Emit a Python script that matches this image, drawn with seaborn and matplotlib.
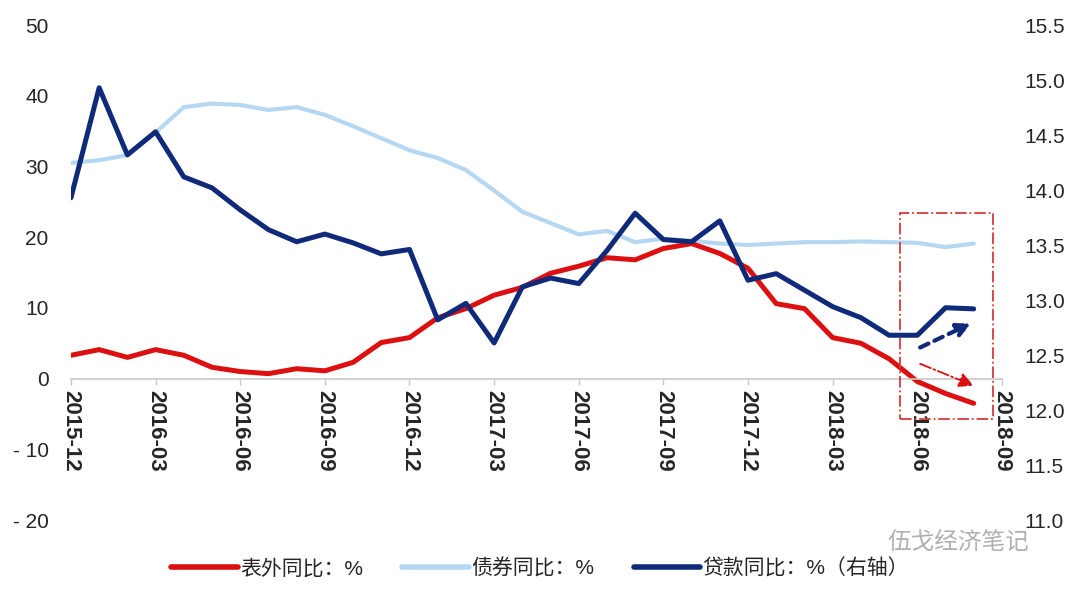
import numpy as np
import pandas as pd
import matplotlib
matplotlib.use("Agg")
import matplotlib.pyplot as plt
import seaborn as sns
from matplotlib.patches import Rectangle
from matplotlib.lines import Line2D

# monthly data, 2015-12 .. 2018-08
months = pd.period_range("2015-12", "2018-08", freq="M").strftime("%Y-%m").tolist()
tick_labels = ["2015-12", "2016-03", "2016-06", "2016-09", "2016-12", "2017-03",
               "2017-06", "2017-09", "2017-12", "2018-03", "2018-06", "2018-09"]

off_bs = [3.3, 4.1, 3.0, 4.1, 3.3, 1.6, 1.0, 0.7, 1.4, 1.1, 2.3, 5.1, 5.8, 8.6, 9.9, 11.8,
          12.9, 14.9, 15.9, 17.1, 16.8, 18.4, 19.1, 17.7, 15.6, 10.6, 9.9, 5.8, 5.0, 2.8,
          -0.4, -2.1, -3.5]
bond = [30.5, 30.9, 31.6, 34.8, 38.4, 38.9, 38.7, 38.0, 38.4, 37.3, 35.7, 34.0, 32.3, 31.2,
        29.5, 26.6, 23.6, 22.0, 20.4, 20.9, 19.3, 19.8, 19.5, 19.1, 18.9, 19.1, 19.3, 19.3,
        19.4, 19.3, 19.2, 18.6, 19.1]
loan = [13.93, 14.93, 14.32, 14.53, 14.12, 14.02, 13.82, 13.64, 13.53, 13.60, 13.52, 13.42,
        13.46, 12.82, 12.97, 12.61, 13.12, 13.20, 13.15, 13.45, 13.79, 13.55, 13.53, 13.72,
        13.18, 13.24, 13.09, 12.94, 12.84, 12.68, 12.68, 12.93, 12.92]

left_ticks = [-20, -10, 0, 10, 20, 30, 40, 50]
left_tick_labels = ["- 20", "- 10", "0", "10", "20", "30", "40", "50"]
right_ticks = [11.0, 11.5, 12.0, 12.5, 13.0, 13.5, 14.0, 14.5, 15.0, 15.5]

legend_labels = ["表外同比：%", "债券同比：%", "贷款同比：%（右轴）"]

df = pd.DataFrame({"idx": range(len(months)), "month": months,
                   "off_bs": off_bs, "bond": bond, "loan": loan})

RED = "#dc1010"
LIGHT = "#b6d7f2"
NAVY = "#0f2a78"

sns.set_theme(style="white")
plt.rcParams["font.family"] = ["Liberation Sans", "Noto Sans CJK SC", "DejaVu Sans"]
plt.rcParams["axes.unicode_minus"] = False

fig = plt.figure(figsize=(10.8, 5.92), dpi=100)
ax = fig.add_axes([0.0657, 0.1216, 0.862, 0.836])
ax2 = ax.twinx()

sns.lineplot(data=df, x="idx", y="bond", ax=ax, color=LIGHT, lw=3.0, legend=False,
             solid_joinstyle="round", solid_capstyle="round")
sns.lineplot(data=df, x="idx", y="off_bs", ax=ax, color=RED, lw=3.6, legend=False,
             solid_joinstyle="round", solid_capstyle="round")
sns.lineplot(data=df, x="idx", y="loan", ax=ax2, color=NAVY, lw=3.6, legend=False,
             solid_joinstyle="round", solid_capstyle="round")

# spines first (moving a spine resets the ticks)
for s in ["left", "right", "top"]:
    ax.spines[s].set_visible(False)
ax.spines["bottom"].set_position(("data", 0))
ax.spines["bottom"].set_color("#c8c8c8")
ax.spines["bottom"].set_linewidth(1.2)
for s in ax2.spines.values():
    s.set_visible(False)

# axes
ax.set_xlim(0, 33)
ax.set_ylim(-20, 50)
ax2.set_ylim(11.0, 15.5)
ax.set_xlabel("")
ax.set_ylabel("")
ax2.set_ylabel("")

ax.set_xticks(range(0, 34, 3))
ax.set_xticklabels(tick_labels)
ax.tick_params(axis="x", bottom=True, length=4, width=1, color="#c8c8c8", pad=4,
               direction="out", labelsize=16, labelrotation=-90)
for t in ax.get_xticklabels():
    t.set_fontweight("bold")

ax.set_yticks(left_ticks)
ax.set_yticklabels(left_tick_labels)
ax.tick_params(axis="y", left=False, length=0, pad=16, labelsize=15)

ax2.set_yticks(right_ticks)
ax2.set_yticklabels([f"{v:.1f}" for v in right_ticks])
ax2.tick_params(axis="y", right=False, length=0, pad=16, labelsize=15)

# highlight box and arrows
ax.add_patch(Rectangle((29.4, -5.7), 3.3, 29.1, fill=False, edgecolor="#d83a3a",
                       linestyle="-.", lw=1.3, zorder=5))
ax.annotate("", xy=(31.9, 7.8), xytext=(30.1, 4.4),
            arrowprops=dict(arrowstyle="-|>", color=NAVY, lw=3, linestyle=(0, (2.2, 1.6)),
                            mutation_scale=20, shrinkA=0, shrinkB=0))
ax.annotate("", xy=(32.0, -1.0), xytext=(30.1, 2.1),
            arrowprops=dict(arrowstyle="-|>", color=RED, lw=1.3, linestyle="-.",
                            mutation_scale=22, shrinkA=0, shrinkB=0))

# legend
handles = [Line2D([], [], color=RED, lw=4),
           Line2D([], [], color=LIGHT, lw=4),
           Line2D([], [], color=NAVY, lw=4)]
fig.legend(handles, legend_labels, loc="center", bbox_to_anchor=(0.5, 0.04), ncol=3,
           frameon=False, fontsize=15, handlelength=3.2, handletextpad=0.1,
           columnspacing=1.9)

# watermark
fig.text(0.822, 0.082, "伍戈经济笔记", color="#b0b0b0", fontsize=17, va="center")

fig.savefig("out.png", dpi=100)
